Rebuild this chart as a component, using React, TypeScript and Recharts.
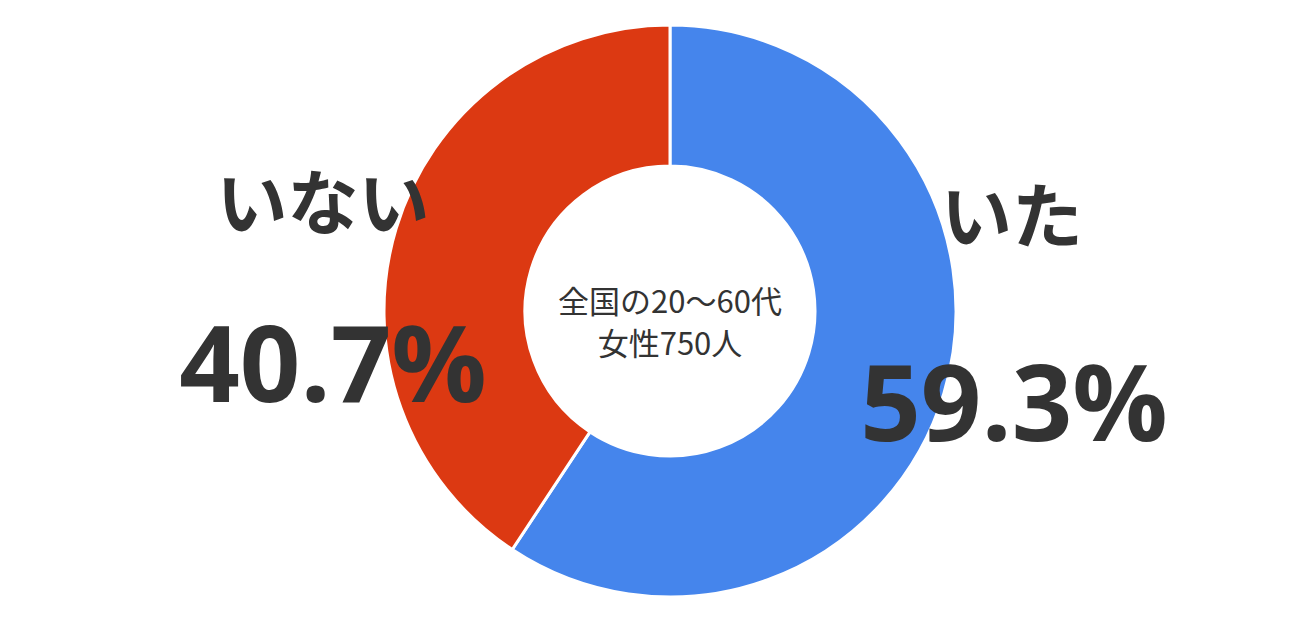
import { PieChart, Pie, Cell } from "recharts";

const categories = ["いた", "いない"];
const values = [59.3, 40.7];
const valueLabels = ["59.3%", "40.7%"];
const centerLines = ["全国の20〜60代", "女性750人"];

const COLORS = ["#4585EC", "#DC3912"];

// label positions relative to the pie centre (name baseline, value baseline)
const labelPos = [
  { x: 342, nameY: -69, valueX: 344, valueY: 130 },
  { x: -347, nameY: -82, valueX: -337, valueY: 91 },
];
const centerLineY = [2, 44];

const data = categories.map((name, i) => ({ name, value: values[i], label: valueLabels[i] }));

const JP = '"Noto Sans CJK JP", "Noto Sans", sans-serif';
const NUM = '"Open Sans", "Noto Sans", sans-serif';

const renderLabel = ({ cx, cy, index }: any) => {
  const p = labelPos[index];
  return (
    <g key={`lbl-${index}`}>
      <text
        x={cx + p.x}
        y={cy + p.nameY}
        textAnchor="middle"
        fill="#333333"
        fontSize={71}
        fontWeight={700}
        fontFamily={JP}
      >
        {data[index].name}
      </text>
      <text
        x={cx + p.valueX}
        y={cy + p.valueY}
        textAnchor="middle"
        fill="#333333"
        fontSize={106}
        fontWeight={700}
        fontFamily={NUM}
      >
        {data[index].label}
      </text>
    </g>
  );
};

export default function App() {
  const cx = 662;
  const cy = 303;
  return (
    <div style={{ position: "relative", width: 1300, height: 621 }}>
      <PieChart width={1300} height={621} margin={{ top: 0, right: 0, bottom: 0, left: 0 }}>
        <Pie
          data={data}
          dataKey="value"
          nameKey="name"
          cx={cx}
          cy={cy}
          innerRadius={145}
          outerRadius={286}
          startAngle={90}
          endAngle={-270}
          stroke="#ffffff"
          strokeWidth={3}
          label={renderLabel}
          labelLine={false}
          isAnimationActive={false}
        >
          {data.map((d, i) => (
            <Cell key={d.name} fill={COLORS[i]} />
          ))}
        </Pie>
      </PieChart>
      <svg
        width={1300}
        height={621}
        style={{ position: "absolute", left: 0, top: 0, pointerEvents: "none" }}
      >
        {centerLines.map((l, i) => (
          <text
            key={l}
            x={cx}
            y={cy + centerLineY[i]}
            textAnchor="middle"
            fill="#333333"
            fontSize={31}
            fontFamily={JP}
          >
            {l}
          </text>
        ))}
      </svg>
    </div>
  );
}
